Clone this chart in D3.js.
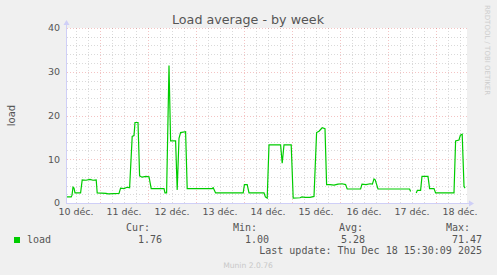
<!DOCTYPE html>
<html>
<head>
<meta charset="utf-8">
<script src="https://cdn.jsdelivr.net/npm/d3@7"></script>
<style>
  body { margin: 0; background: #f0f0f0; }
  text { font-family: "DejaVu Sans", sans-serif; fill: #555; }
  .mono { font-family: "DejaVu Sans Mono", monospace; }
</style>
</head>
<body>
<div id="main"></div>
<script>
const ctx = { w: 497, h: 275 };
const margin = { top: 28, right: 30, bottom: 72, left: 67 };

// hours counted from 10 déc. 00:00, load values
const hours = [7.5, 9.6, 10.0, 10.5, 11.0, 11.5, 14.3, 15.1, 17, 19, 20.5, 22.1, 22.6, 27, 28, 33.5,
  34.3, 36, 37.5, 38.8, 40.1, 41.0, 41.5, 43.0, 43.8, 45, 47, 48.5, 49.6, 56.0, 56.5, 57.3,
  58.5, 59.3, 61.8, 62.6, 63.5, 64.3, 66.8, 67.6, 80.1, 80.6, 81.8, 95.6, 96.2, 97.6, 98.5,
  106.0, 106.7, 107.6, 108.5, 114.3, 115.1, 116.0, 119.6, 120.6, 124, 125, 126.5, 129, 131,
  132.3, 133.5, 135.1, 136.5, 137.3, 139, 141, 143, 145, 146.8, 147.6, 154.3, 155.0, 157, 159,
  160.2, 161.0, 161.6, 163.0, 178.8, 179.3, 180.5, 182.1, 182.7, 184.3, 185.0, 188.0, 188.8,
  191.0, 191.8, 201.0, 201.8, 203.5, 204.2, 205.1, 206.0, 206.5];
const load = [1.4, 1.4, 1.8, 3.6, 3.4, 2.3, 2.3, 5.3, 5.2, 5.4, 5.2, 5.3, 2.3, 2.2, 2.1, 2.2,
  3.4, 3.3, 3.6, 3.5, 15.2, 15.4, 18.4, 18.4, 6.2, 5.9, 6.1, 6.0, 3.3, 3.3, 2.3, 2.3,
  31.4, 14.2, 14.2, 3.0, 14.8, 16.1, 16.3, 3.3, 3.3, 3.5, 2.3, 2.3, 4.2, 4.2, 2.3,
  2.3, 1.4, 1.1, 13.3, 13.3, 9.1, 13.3, 13.3, 1.1, 1.2, 1.4, 1.3, 1.3, 1.5,
  16.1, 16.4, 17.2, 17.0, 4.2, 4.2, 4.1, 4.3, 4.4, 4.2, 3.2, 3.2, 4.3, 4.2, 4.4,
  4.3, 5.5, 5.3, 3.2, 3.2, 2.65, null, 2.3, 2.9, 2.9, 6.1, 6.1, 3.3,
  3.3, 2.3, 2.3, 14.2, 14.4, 15.5, 15.7, 3.8, 3.4];

const dayLabels = ["10 déc.", "11 déc.", "12 déc.", "13 déc.", "14 déc.", "15 déc.", "16 déc.", "17 déc.", "18 déc."];
const yTicks = [0, 10, 20, 30, 40];
const statLabels = ["Cur:", "Min:", "Avg:", "Max:"];
const statValues = ["1.76", "1.00", "5.28", "71.47"];
const statX = [150, 257, 363, 470];
const statValX = [162, 269, 365, 482];

const plotW = ctx.w - margin.left - margin.right;
const plotH = ctx.h - margin.top - margin.bottom;

const svg = d3.select("#main").append("svg")
    .attr("width", ctx.w)
    .attr("height", ctx.h);

const x = d3.scaleLinear().domain([7.5, 207.5]).range([0, plotW]);
const y = d3.scaleLinear().domain([0, 40]).range([plotH, 0]);

const g = svg.append("g").attr("transform", `translate(${margin.left},${margin.top})`);

g.append("rect").attr("width", plotW).attr("height", plotH).attr("fill", "#fff");

const minorCol = "rgba(140,140,140,0.32)";
const majorCol = "rgba(220,70,70,0.32)";

// minor grid
const minorV = d3.range(12, 207.5, 6).filter(h => h % 24 != 0);
g.selectAll(".mv").data(minorV).enter().append("line")
    .attr("x1", d => Math.round(x(d)) + 0.5).attr("x2", d => Math.round(x(d)) + 0.5)
    .attr("y1", 0).attr("y2", plotH)
    .attr("stroke", minorCol).attr("stroke-dasharray", "1,2");
const minorH = d3.range(2, 40, 2).filter(v => v % 10 != 0);
g.selectAll(".mh").data(minorH).enter().append("line")
    .attr("x1", 0).attr("x2", plotW)
    .attr("y1", d => Math.round(y(d)) + 0.5).attr("y2", d => Math.round(y(d)) + 0.5)
    .attr("stroke", minorCol).attr("stroke-dasharray", "1,2");

// major grid
const majorV = d3.range(24, 207.5, 24);
g.selectAll(".Mv").data(majorV).enter().append("line")
    .attr("x1", d => Math.round(x(d)) + 0.5).attr("x2", d => Math.round(x(d)) + 0.5)
    .attr("y1", 0).attr("y2", plotH)
    .attr("stroke", majorCol).attr("stroke-dasharray", "1,2");
g.selectAll(".Mh").data(yTicks.slice(1)).enter().append("line")
    .attr("x1", 0).attr("x2", plotW)
    .attr("y1", d => Math.round(y(d)) + 0.5).attr("y2", d => Math.round(y(d)) + 0.5)
    .attr("stroke", majorCol).attr("stroke-dasharray", "1,2");

// data line
const pts = hours.map((h, i) => ({ h: h, v: load[i] }));
g.append("path")
    .datum(pts)
    .attr("fill", "none")
    .attr("stroke", "#00cc00")
    .attr("stroke-width", 1.2)
    .attr("d", d3.line().defined(d => d.v != null).x(d => x(d.h)).y(d => y(d.v)));

// axes
const axisCol = "#cfcff7";
g.append("line").attr("x1", -0.5).attr("x2", -0.5).attr("y1", plotH + 1).attr("y2", -5)
    .attr("stroke", axisCol);
g.append("path").attr("d", `M-3.5,-3 L2.5,-3 L-0.5,-8 Z`).attr("fill", axisCol);
g.append("line").attr("x1", -1).attr("x2", plotW + 3).attr("y1", plotH + 0.5).attr("y2", plotH + 0.5)
    .attr("stroke", axisCol);
g.append("path").attr("d", `M${plotW + 2},${plotH - 2.5} L${plotW + 2},${plotH + 3.5} L${plotW + 7},${plotH + 0.5} Z`)
    .attr("fill", axisCol);

// tick labels
g.selectAll(".yl").data(yTicks).enter().append("text")
    .attr("x", -7).attr("y", d => y(d)).attr("dy", "0.35em")
    .attr("text-anchor", "end").style("font-size", "9.5px")
    .text(d => d);
g.selectAll(".xl").data(dayLabels).enter().append("text")
    .attr("x", (d, i) => x(12 + 24 * i)).attr("y", plotH + 12)
    .attr("text-anchor", "middle").style("font-size", "9.5px")
    .text(d => d);

// title and side texts
svg.append("text").attr("x", 248).attr("y", 24).attr("text-anchor", "middle")
    .style("font-size", "12.7px").text("Load average - by week");
svg.append("text").attr("transform", `translate(15,${margin.top + plotH / 2}) rotate(-90)`)
    .attr("text-anchor", "middle").style("font-size", "10px").text("load");
svg.append("text").attr("transform", "translate(485,5) rotate(90)")
    .style("font-size", "7px").style("fill", "#cdcdcd").text("RRDTOOL / TOBI OETIKER");
svg.append("text").attr("x", 248).attr("y", 268).attr("text-anchor", "middle")
    .style("font-size", "7.6px").style("fill", "#c8c8c8").text("Munin 2.0.76");

// legend
svg.append("rect").attr("x", 14).attr("y", 237).attr("width", 6).attr("height", 6).attr("fill", "#00cc00");
svg.append("text").attr("class", "mono").attr("x", 27).attr("y", 243).style("font-size", "10px").text("load");
svg.selectAll(".sl").data(statLabels).enter().append("text")
    .attr("class", "mono").attr("x", (d, i) => statX[i]).attr("y", 231)
    .attr("text-anchor", "end").style("font-size", "10px").text(d => d);
svg.selectAll(".sv").data(statValues).enter().append("text")
    .attr("class", "mono").attr("x", (d, i) => statValX[i]).attr("y", 243)
    .attr("text-anchor", "end").style("font-size", "10px").text(d => d);
svg.append("text").attr("class", "mono").attr("x", 482).attr("y", 254)
    .attr("text-anchor", "end").style("font-size", "10px")
    .text("Last update: Thu Dec 18 15:30:09 2025");
</script>
</body>
</html>
